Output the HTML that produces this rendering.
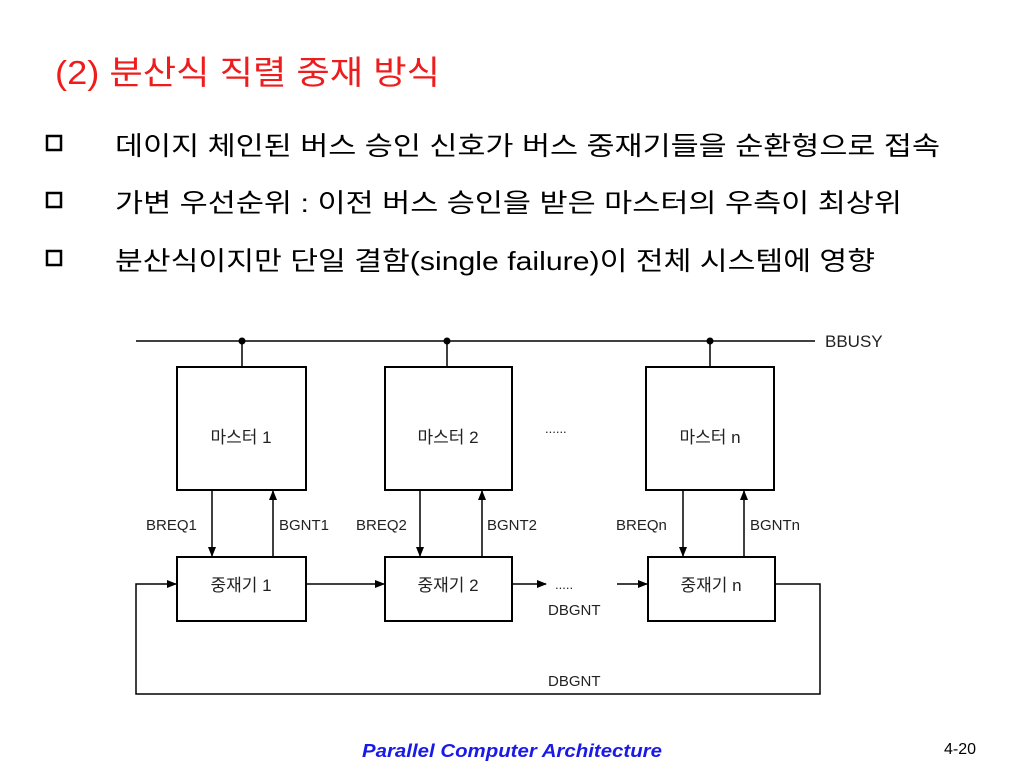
<!DOCTYPE html>
<html><head><meta charset="utf-8"><style>
html,body{margin:0;padding:0;background:#fff;}
svg{display:block;}
</style></head><body>
<svg width="1024" height="768" viewBox="0 0 1024 768" xmlns="http://www.w3.org/2000/svg">
<defs>
<marker id="a" markerWidth="10" markerHeight="8" refX="9" refY="4" orient="auto" markerUnits="userSpaceOnUse"><path d="M0,0 L10,4 L0,8 Z" fill="#000"/></marker>
</defs>
<g font-family="'Liberation Sans','Noto Sans CJK KR','NanumGothic',sans-serif">
<text x="55" y="84" font-size="33" fill="#ee1c1c" textLength="385" lengthAdjust="spacingAndGlyphs">(2) 분산식 직렬 중재 방식</text>
<g font-size="26" fill="#000">
<text x="115" y="155" textLength="825" lengthAdjust="spacingAndGlyphs">데이지 체인된 버스 승인 신호가 버스 중재기들을 순환형으로 접속</text>
<text x="115" y="212" textLength="787" lengthAdjust="spacingAndGlyphs">가변 우선순위 : 이전 버스 승인을 받은 마스터의 우측이 최상위</text>
<text x="115" y="270" textLength="760" lengthAdjust="spacingAndGlyphs">분산식이지만 단일 결함(single failure)이 전체 시스템에 영향</text>
</g>
<g fill="#fff" stroke="#000" stroke-width="2.5">
<rect x="47" y="136" width="14" height="14"/><rect x="47" y="193" width="14" height="14"/><rect x="47" y="251" width="14" height="14"/>
</g>
<g stroke="#000" fill="none" stroke-width="1.5">
<line x1="136" y1="341" x2="815" y2="341"/>
<line x1="242" y1="341" x2="242" y2="367"/><line x1="447" y1="341" x2="447" y2="367"/><line x1="710" y1="341" x2="710" y2="367"/>
<rect x="177" y="367" width="129" height="123" stroke-width="2"/>
<rect x="385" y="367" width="127" height="123" stroke-width="2"/>
<rect x="646" y="367" width="128" height="123" stroke-width="2"/>
<rect x="177" y="557" width="129" height="64" stroke-width="2"/>
<rect x="385" y="557" width="127" height="64" stroke-width="2"/>
<rect x="648" y="557" width="127" height="64" stroke-width="2"/>
<line x1="212" y1="490" x2="212" y2="556" marker-end="url(#a)"/>
<line x1="420" y1="490" x2="420" y2="556" marker-end="url(#a)"/>
<line x1="683" y1="490" x2="683" y2="556" marker-end="url(#a)"/>
<line x1="273" y1="557" x2="273" y2="491" marker-end="url(#a)"/>
<line x1="482" y1="557" x2="482" y2="491" marker-end="url(#a)"/>
<line x1="744" y1="557" x2="744" y2="491" marker-end="url(#a)"/>
<polyline points="775,584 820,584 820,694 136,694 136,584 176,584" marker-end="url(#a)"/>
<line x1="306" y1="584" x2="384" y2="584" marker-end="url(#a)"/>
<line x1="512" y1="584" x2="546" y2="584" marker-end="url(#a)"/>
<line x1="617" y1="584" x2="647" y2="584" marker-end="url(#a)"/>
</g>
<g fill="#000"><circle cx="242" cy="341" r="3.5"/><circle cx="447" cy="341" r="3.5"/><circle cx="710" cy="341" r="3.5"/></g>
<g font-size="17" fill="#222">
<text x="825" y="347">BBUSY</text>
<text x="241" y="443" text-anchor="middle">마스터 1</text>
<text x="448" y="443" text-anchor="middle">마스터 2</text>
<text x="710" y="443" text-anchor="middle">마스터 n</text>
<text x="241" y="591" text-anchor="middle">중재기 1</text>
<text x="448" y="591" text-anchor="middle">중재기 2</text>
<text x="711" y="591" text-anchor="middle">중재기 n</text>
<text x="545" y="433" font-size="13">......</text>
<text x="555" y="589" font-size="13">.....</text>
<text x="146" y="530" font-size="15">BREQ1</text>
<text x="279" y="530" font-size="15">BGNT1</text>
<text x="356" y="530" font-size="15">BREQ2</text>
<text x="487" y="530" font-size="15">BGNT2</text>
<text x="616" y="530" font-size="15">BREQn</text>
<text x="750" y="530" font-size="15">BGNTn</text>
<text x="548" y="615" font-size="15">DBGNT</text>
<text x="548" y="686" font-size="15">DBGNT</text>
</g>
<text x="362" y="757" font-size="18" font-weight="bold" font-style="italic" fill="#1a1ae6" textLength="300" lengthAdjust="spacingAndGlyphs">Parallel Computer Architecture</text>
<text x="944" y="754" font-size="16" fill="#000">4-20</text>
</g>
</svg>
</body></html>
